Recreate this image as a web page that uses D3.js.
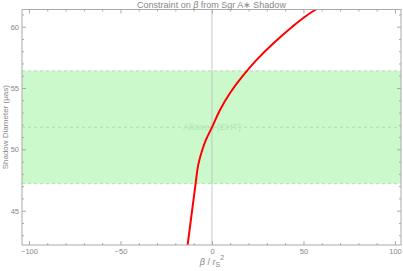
<!DOCTYPE html>
<html>
<head>
<meta charset="utf-8">
<script src="https://cdn.jsdelivr.net/npm/d3@7"></script>
<style>
  body { margin: 0; background: #fff; }
  text { font-family: "Liberation Sans", "DejaVu Sans", sans-serif; fill: #888; }
</style>
</head>
<body>
<svg class="shadowPlot"></svg>
<script>
// shadow diameter vs beta
const betaValues = [-13.3, -8.9, -7.5, -5.3, -3.3, 0.2, 4.4, 9.8, 16.5, 24.4, 33.6, 43.9, 49.9, 56.3, 58.5];
const diameterValues = [42.2, 47.24, 48.73, 49.95, 50.77, 51.85, 53.21, 54.57, 55.92, 57.29, 58.65, 60.0, 60.71, 61.36, 61.55];

// EHT band: center and 2 sigma edges
const ehtCenter = [51.8];
const ehtBand = [47.2, 56.4];
const bandLabel = ["Allowed (EHT)"];

const xMajorTicks = [-100, -50, 0, 50, 100];
const yMajorTicks = [45, 50, 55, 60];

const width = 403, height = 271;
const margin = { left: 22, right: 2, top: 9.5, bottom: 26 };

const x = d3.scaleLinear().domain([-103.8, 103.3]).range([margin.left, width - margin.right]);
const y = d3.scaleLinear().domain([42.2, 61.4]).range([height - margin.bottom, margin.top]);

const svg = d3.select("svg.shadowPlot")
    .attr("width", width)
    .attr("height", height);

svg.append("clipPath").attr("id", "clip")
    .append("rect")
    .attr("x", margin.left).attr("y", margin.top)
    .attr("width", width - margin.left - margin.right)
    .attr("height", height - margin.top - margin.bottom);

const plot = svg.append("g").attr("clip-path", "url(#clip)");

// green band
plot.append("rect")
    .attr("x", margin.left)
    .attr("width", width - margin.left - margin.right)
    .attr("y", y(ehtBand[1]))
    .attr("height", y(ehtBand[0]) - y(ehtBand[1]))
    .attr("fill", "#ccf9cc");

plot.selectAll("line.dash")
    .data(ehtBand.concat(ehtCenter))
    .join("line")
    .attr("class", "dash")
    .attr("x1", margin.left).attr("x2", width - margin.right)
    .attr("y1", d => y(d)).attr("y2", d => y(d))
    .attr("stroke", "#b5ccb5")
    .attr("stroke-width", 0.8)
    .attr("stroke-dasharray", "3,3");

// zero line
plot.append("line")
    .attr("x1", x(0)).attr("x2", x(0))
    .attr("y1", margin.top).attr("y2", height - margin.bottom)
    .attr("stroke", "#bbb")
    .attr("stroke-width", 0.8);

plot.append("text")
    .attr("x", x(0))
    .attr("y", y(ehtCenter[0]) + 3)
    .attr("text-anchor", "middle")
    .attr("font-size", 9)
    .style("fill", "#b0e6b0")
    .text(bandLabel[0]);

const line = d3.line().x((d, i) => x(betaValues[i])).y(d => y(d)).curve(d3.curveMonotoneY);
plot.append("path")
    .datum(diameterValues)
    .attr("fill", "none")
    .attr("stroke", "#f00")
    .attr("stroke-width", 2)
    .attr("d", line);

// frame + ticks
const frameColor = "#aaa";
svg.append("rect")
    .attr("x", margin.left).attr("y", margin.top)
    .attr("width", width - margin.left - margin.right)
    .attr("height", height - margin.top - margin.bottom)
    .attr("fill", "none")
    .attr("stroke", frameColor)
    .attr("stroke-width", 1);

const xMinor = d3.range(-100, 101, 10).filter(v => v % 50);
const yMinor = d3.range(43, 62, 1).filter(v => v % 5);

const bottomAxis = d3.axisBottom(x).tickValues(xMajorTicks).tickSize(4).tickSizeOuter(0);
const bottomMinor = d3.axisBottom(x).tickValues(xMinor).tickSize(2).tickFormat("").tickSizeOuter(0);
const topAxis = d3.axisBottom(x).tickValues(xMajorTicks).tickSize(4).tickFormat("").tickSizeOuter(0);
const topMinor = d3.axisBottom(x).tickValues(xMinor).tickSize(2).tickFormat("").tickSizeOuter(0);
const leftAxis = d3.axisRight(y).tickValues(yMajorTicks).tickSize(4).tickSizeOuter(0);
const leftMinor = d3.axisRight(y).tickValues(yMinor).tickSize(2).tickFormat("").tickSizeOuter(0);
const rightAxis = d3.axisLeft(y).tickValues(yMajorTicks).tickSize(4).tickFormat("").tickSizeOuter(0);
const rightMinor = d3.axisLeft(y).tickValues(yMinor).tickSize(2).tickFormat("").tickSizeOuter(0);

function styleAxis(g) {
    g.select(".domain").remove();
    g.selectAll("line").attr("stroke", frameColor);
    g.selectAll("text").style("fill", "#888").attr("font-size", 7.5);
}

// bottom ticks drawn upward (inside the frame), labels below
const gb = svg.append("g").attr("transform", `translate(0,${height - margin.bottom})`).call(bottomAxis).call(styleAxis);
gb.selectAll("line").attr("y2", -4);
gb.selectAll("text").attr("y", 4).attr("dy", "0.71em");
const gbm = svg.append("g").attr("transform", `translate(0,${height - margin.bottom})`).call(bottomMinor).call(styleAxis);
gbm.selectAll("line").attr("y2", -2);

svg.append("g").attr("transform", `translate(0,${margin.top})`).call(topAxis).call(styleAxis);
svg.append("g").attr("transform", `translate(0,${margin.top})`).call(topMinor).call(styleAxis);

const gl = svg.append("g").attr("transform", `translate(${margin.left},0)`).call(leftAxis).call(styleAxis);
gl.selectAll("text").attr("x", -3).attr("text-anchor", "end");
svg.append("g").attr("transform", `translate(${margin.left},0)`).call(leftMinor).call(styleAxis);

svg.append("g").attr("transform", `translate(${width - margin.right},0)`).call(rightAxis).call(styleAxis);
svg.append("g").attr("transform", `translate(${width - margin.right},0)`).call(rightMinor).call(styleAxis);

// labels
const title = svg.append("text")
    .attr("x", (margin.left + width - margin.right) / 2)
    .attr("y", 8)
    .attr("text-anchor", "middle")
    .attr("font-size", 9);
title.append("tspan").text("Constraint on ");
title.append("tspan").attr("font-style", "italic").text("β");
title.append("tspan").text(" from Sgr A∗ Shadow");

const xl = svg.append("text")
    .attr("x", x(0))
    .attr("y", 265)
    .attr("text-anchor", "middle")
    .attr("font-size", 9);
xl.append("tspan").attr("font-style", "italic").text("β");
xl.append("tspan").text(" / ");
xl.append("tspan").attr("font-style", "italic").text("r");
xl.append("tspan").attr("font-size", 7).attr("dy", 2).text("S");
xl.append("tspan").attr("font-size", 7).attr("dy", -7).text("2");

svg.append("text")
    .attr("transform", `translate(8,${(margin.top + height - margin.bottom) / 2}) rotate(-90)`)
    .attr("text-anchor", "middle")
    .attr("font-size", 8)
    .text("Shadow Diameter (μas)");
</script>
</body>
</html>
